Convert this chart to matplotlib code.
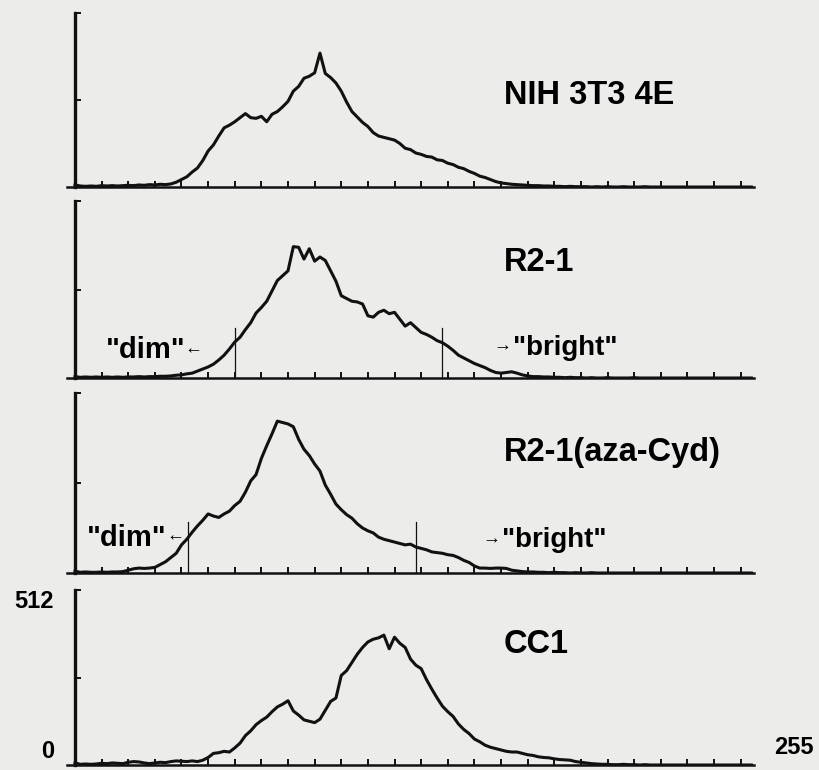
import numpy as np
import matplotlib.pyplot as plt

plt.rcParams['font.family'] = ['Liberation Sans', 'DejaVu Sans']

# === Histogram counts, read every 2 channels (0, 2, 4, ...) ===
nih = [6, 3, 2, 3, 2, 4, 3, 4, 3, 4, 5, 4, 6, 5, 7, 6, 8, 7, 9, 14,
       22, 30, 44, 56, 78, 106, 124, 150, 174, 182, 192, 204, 216, 204, 202, 208, 192, 214, 222, 236,
       252, 282, 296, 320, 326, 336, 394, 334, 322, 306, 282, 250, 222, 206, 190, 178, 160, 150, 146, 142,
       138, 128, 114, 110, 100, 96, 90, 88, 80, 78, 70, 66, 58, 54, 46, 40, 32, 28, 22, 16,
       12, 10, 8, 7, 6, 5, 4, 4, 3, 3, 2, 2, 1, 2, 1, 1, 1, 0, 1, 0,
       1, 0, 0, 1, 0, 0, 0, 1, 0, 0, 0, 0, 0, 0, 0, 0, 0, 0, 0, 0,
       0, 0, 0, 0, 0, 0, 0, 0]

r21 = [4, 2, 3, 2, 3, 2, 3, 2, 3, 2, 3, 3, 4, 3, 4, 4, 5, 5, 6, 8,
       9, 12, 14, 20, 26, 32, 40, 52, 66, 84, 104, 118, 140, 160, 188, 204, 222, 252, 282, 296,
       310, 380, 378, 344, 374, 338, 350, 340, 310, 280, 238, 230, 222, 220, 214, 180, 176, 190, 196, 186,
       190, 170, 150, 160, 146, 132, 126, 118, 108, 102, 92, 80, 66, 58, 50, 42, 36, 30, 22, 16,
       14, 16, 18, 14, 9, 6, 4, 4, 3, 3, 2, 2, 1, 2, 1, 1, 0, 1, 0, 0,
       1, 0, 0, 0, 0, 1, 0, 0, 0, 0, 0, 0, 0, 0, 0, 0, 0, 0, 0, 0,
       0, 0, 0, 0, 0, 0, 0, 0]

aza = [5, 2, 3, 2, 2, 3, 2, 3, 3, 4, 8, 12, 14, 13, 14, 16, 24, 32, 44, 56,
       80, 96, 116, 134, 150, 168, 162, 158, 168, 176, 192, 204, 230, 262, 280, 326, 362, 396, 432, 428,
       424, 416, 380, 352, 334, 310, 290, 250, 224, 196, 180, 166, 156, 140, 128, 120, 114, 102, 96, 92,
       88, 84, 80, 82, 74, 70, 66, 60, 58, 56, 52, 50, 44, 36, 30, 20, 14, 14, 13, 14,
       14, 13, 8, 6, 4, 3, 3, 2, 2, 1, 2, 1, 1, 0, 1, 0, 0, 1, 0, 0,
       0, 0, 0, 0, 0, 0, 0, 0, 0, 0, 0, 0, 0, 0, 0, 0, 0, 0, 0, 0,
       0, 0, 0, 0, 0, 0, 0, 0]

cc1 = [6, 2, 3, 2, 3, 5, 4, 6, 5, 4, 8, 10, 9, 6, 4, 6, 8, 7, 10, 12,
       11, 10, 12, 10, 14, 22, 34, 36, 40, 38, 50, 64, 86, 100, 118, 130, 140, 156, 170, 178,
       188, 158, 146, 132, 128, 124, 134, 160, 186, 196, 262, 276, 300, 324, 344, 360, 368, 372, 380, 340,
       374, 356, 344, 310, 292, 282, 250, 222, 196, 172, 156, 142, 120, 104, 92, 76, 68, 58, 52, 48,
       44, 40, 38, 38, 34, 30, 28, 24, 22, 21, 18, 16, 15, 14, 10, 8, 6, 4, 3, 2,
       2, 1, 1, 2, 1, 1, 0, 1, 0, 0, 0, 0, 0, 0, 0, 0, 0, 0, 0, 0,
       0, 0, 0, 0, 0, 0, 0, 0]

names = ['NIH 3T3 4E', 'R2-1', 'R2-1(aza-Cyd)', 'CC1']
series = [nih, r21, aza, cc1]
name_y = [270, 335, 344, 354]
# gate channels (dim, bright) for panels with gates
gates = {1: (60, 138), 2: (42.5, 128)}
gate_h = 145

# panel pixel rows (top, baseline) in a 820x770 figure
rows = [(13, 187), (201, 378), (393, 573), (590, 765)]
W, H = 820, 770
x_left, x_right = 67, 754  # pixels for xlim below
xmin, xmax = -3.0, 255.0

fig = plt.figure(figsize=(8.2, 7.7), dpi=100)
fig.patch.set_facecolor('#ececea')

axes = []
for k, (top, base) in enumerate(rows):
    ax = fig.add_axes([x_left / W, 1 - base / H, (x_right - x_left) / W, (base - top) / H])
    ax.set_facecolor('none')
    ch = np.arange(len(series[k])) * 2
    ax.plot(ch, series[k], color='#111111', lw=2.2)
    ax.set_xlim(xmin, xmax)
    ax.set_ylim(0, 512)
    for s in ['top', 'right']:
        ax.spines[s].set_visible(False)
    ax.spines['left'].set_position(('data', 0))
    ax.spines['left'].set_linewidth(2.4)
    ax.spines['bottom'].set_linewidth(1.8)
    ax.spines['left'].set_color('#111111')
    ax.spines['bottom'].set_color('#111111')
    ax.set_xticks(np.arange(10, 251, 10))
    ax.set_yticks([256, 512])
    ax.tick_params(axis='both', direction='in', length=4, width=1.4, color='#111111',
                   labelbottom=False, labelleft=False)
    ax.text(161, name_y[k], names[k], fontsize=23.5, fontweight='bold', va='center', ha='left')
    axes.append(ax)

# gates and dim / bright labels
label_pos = {1: ((48, 81), (157, 88)), 2: ((41, 100), (153, 94))}
for k, (gd, gb) in gates.items():
    ax = axes[k]
    ax.plot([gd, gd], [0, gate_h], color='#111111', lw=0.9)
    ax.plot([gb, gb], [0, gate_h], color='#111111', lw=0.9)
    (dx, dy), (bx, by) = label_pos[k]
    ax.text(dx - 6.5, dy, '"dim"', fontsize=21, fontweight='bold', ha='right', va='center')
    ax.text(dx - 6.8, dy + 4, '\u2190', fontsize=13, ha='left', va='center')
    ax.text(bx, by + 4, '\u2192', fontsize=13, ha='left', va='center')
    ax.text(bx + 7.5, by, '"bright"', fontsize=20, fontweight='bold', ha='left', va='center')

# axis value labels on the bottom panel
fig.text(34 / W, 1 - 602 / H, '512', fontsize=17, fontweight='bold', ha='center', va='center')
fig.text(48 / W, 1 - 752 / H, '0', fontsize=17, fontweight='bold', ha='center', va='center')
fig.text(794 / W, 1 - 747 / H, '255', fontsize=17, fontweight='bold', ha='center', va='center')

fig.savefig('out.png', dpi=100, facecolor=fig.get_facecolor())
